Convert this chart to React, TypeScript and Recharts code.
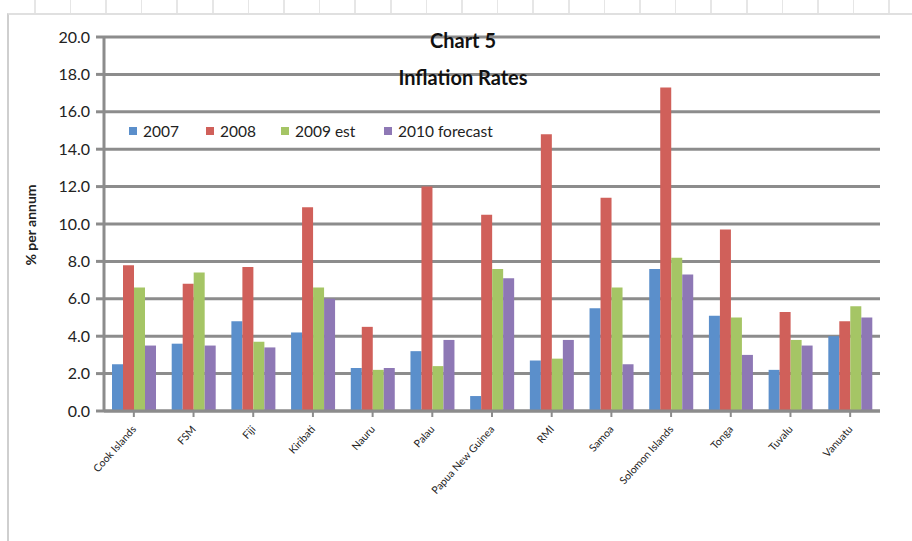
import React from 'react';
import { BarChart, Bar, XAxis, YAxis, CartesianGrid } from 'recharts';

const categories = ['Cook Islands', 'FSM', 'Fiji', 'Kiribati', 'Nauru', 'Palau', 'Papua New Guinea', 'RMI', 'Samoa', 'Solomon Islands', 'Tonga', 'Tuvalu', 'Vanuatu'];
const s2007 = [2.5, 3.6, 4.8, 4.2, 2.3, 3.2, 0.8, 2.7, 5.5, 7.6, 5.1, 2.2, 4.0];
const s2008 = [7.8, 6.8, 7.7, 10.9, 4.5, 12.0, 10.5, 14.8, 11.4, 17.3, 9.7, 5.3, 4.8];
const s2009 = [6.6, 7.4, 3.7, 6.6, 2.2, 2.4, 7.6, 2.8, 6.6, 8.2, 5.0, 3.8, 5.6];
const s2010 = [3.5, 3.5, 3.4, 6.0, 2.3, 3.8, 7.1, 3.8, 2.5, 7.3, 3.0, 3.5, 5.0];
const yTicks = [0, 2, 4, 6, 8, 10, 12, 14, 16, 18, 20];
const seriesNames = ['2007', '2008', '2009 est', '2010 forecast'];
const seriesColors = ['#5b8fcb', '#d0605a', '#a5c565', '#8e78b5'];
const legendWidths = [77, 75, 103, 120];

const data = categories.map((c, i) => ({
  name: c,
  a: s2007[i],
  b: s2008[i],
  c: s2009[i],
  d: s2010[i],
}));
const keys = ['a', 'b', 'c', 'd'];

const FONT = 'Lato, "Open Sans", "DejaVu Sans", sans-serif';

const XTick = (props: any) => {
  const { x, y, payload } = props;
  return (
    <g transform={`translate(${x},${y + 8})`}>
      <text
        x={0}
        y={0}
        textAnchor="end"
        transform="rotate(-48)"
        fontSize={10.5}
        fontFamily={FONT}
        fill="#222"
        dy={4}
      >
        {payload.value}
      </text>
    </g>
  );
};

export default function App() {
  return (
    <div style={{ position: 'absolute', left: 0, top: 0, width: 912, height: 541, background: '#fff', overflow: 'hidden' }}>
      <div
        style={{
          position: 'absolute', left: 0, top: 0, width: 912, height: 13,
          backgroundImage: 'repeating-linear-gradient(to right, transparent 0px, transparent 34px, #e6e6e6 34px, #e6e6e6 35.6px)',
        }}
      />
      <div style={{ position: 'absolute', left: 7, top: 13, width: 920, height: 540, borderLeft: '2px solid #cfcfcf', borderTop: '2px solid #e0e0e0' }} />
      <div style={{ position: 'absolute', left: 0, top: 0 }}>
        <BarChart
          width={912}
          height={541}
          data={data}
          margin={{ top: 37, right: 32, bottom: 30, left: 44 }}
          barCategoryGap={8}
          barGap={0}
        >
          <CartesianGrid vertical={false} stroke="#8c8c8c" strokeWidth={3} />
          <XAxis
            dataKey="name"
            height={100}
            interval={0}
            tick={<XTick />}
            axisLine={{ stroke: '#8c8c8c', strokeWidth: 3 }}
            tickLine={{ stroke: '#8c8c8c', strokeWidth: 2 }}
            tickSize={6}
          />
          <YAxis
            width={60}
            domain={[0, 20]}
            ticks={yTicks}
            interval={0}
            tickFormatter={(v: number) => v.toFixed(1)}
            tick={{ fontSize: 16, fill: '#222', fontFamily: FONT, dx: -4 }}
            axisLine={{ stroke: '#8c8c8c', strokeWidth: 3 }}
            tickLine={{ stroke: '#8c8c8c', strokeWidth: 3 }}
            tickSize={8}
          />
          {keys.map((k, i) => (
            <Bar key={k} dataKey={k} name={seriesNames[i]} fill={seriesColors[i]} isAnimationActive={false} />
          ))}
        </BarChart>
      </div>
      <div style={{ position: 'absolute', left: 125, top: 119, display: 'flex', alignItems: 'center', background: '#fff', fontFamily: FONT, fontSize: 15.5, color: '#222', height: 24, padding: '0 4px' }}>
        {seriesNames.map((n, i) => (
          <div key={n} style={{ display: 'flex', alignItems: 'center', width: legendWidths[i] }}>
            <span style={{ display: 'inline-block', width: 8, height: 8, background: seriesColors[i], marginRight: 6 }} />
            <span>{n}</span>
          </div>
        ))}
      </div>
      <div style={{ position: 'absolute', left: 0, width: 912, top: 28, textAlign: 'center', paddingLeft: 14, boxSizing: 'border-box', fontFamily: FONT, fontWeight: 'bold', fontSize: 20, color: '#111', lineHeight: '24px' }}>
        Chart 5
      </div>
      <div style={{ position: 'absolute', left: 0, width: 912, top: 65, textAlign: 'center', paddingLeft: 14, boxSizing: 'border-box', fontFamily: FONT, fontWeight: 'bold', fontSize: 20, color: '#111', lineHeight: '24px' }}>
        Inflation Rates
      </div>
      <div style={{ position: 'absolute', left: 30, top: 225, transform: 'translate(-50%, -50%) rotate(-90deg)', whiteSpace: 'nowrap', fontFamily: FONT, fontWeight: 'bold', fontSize: 14, color: '#222' }}>
        % per annum
      </div>
    </div>
  );
}
